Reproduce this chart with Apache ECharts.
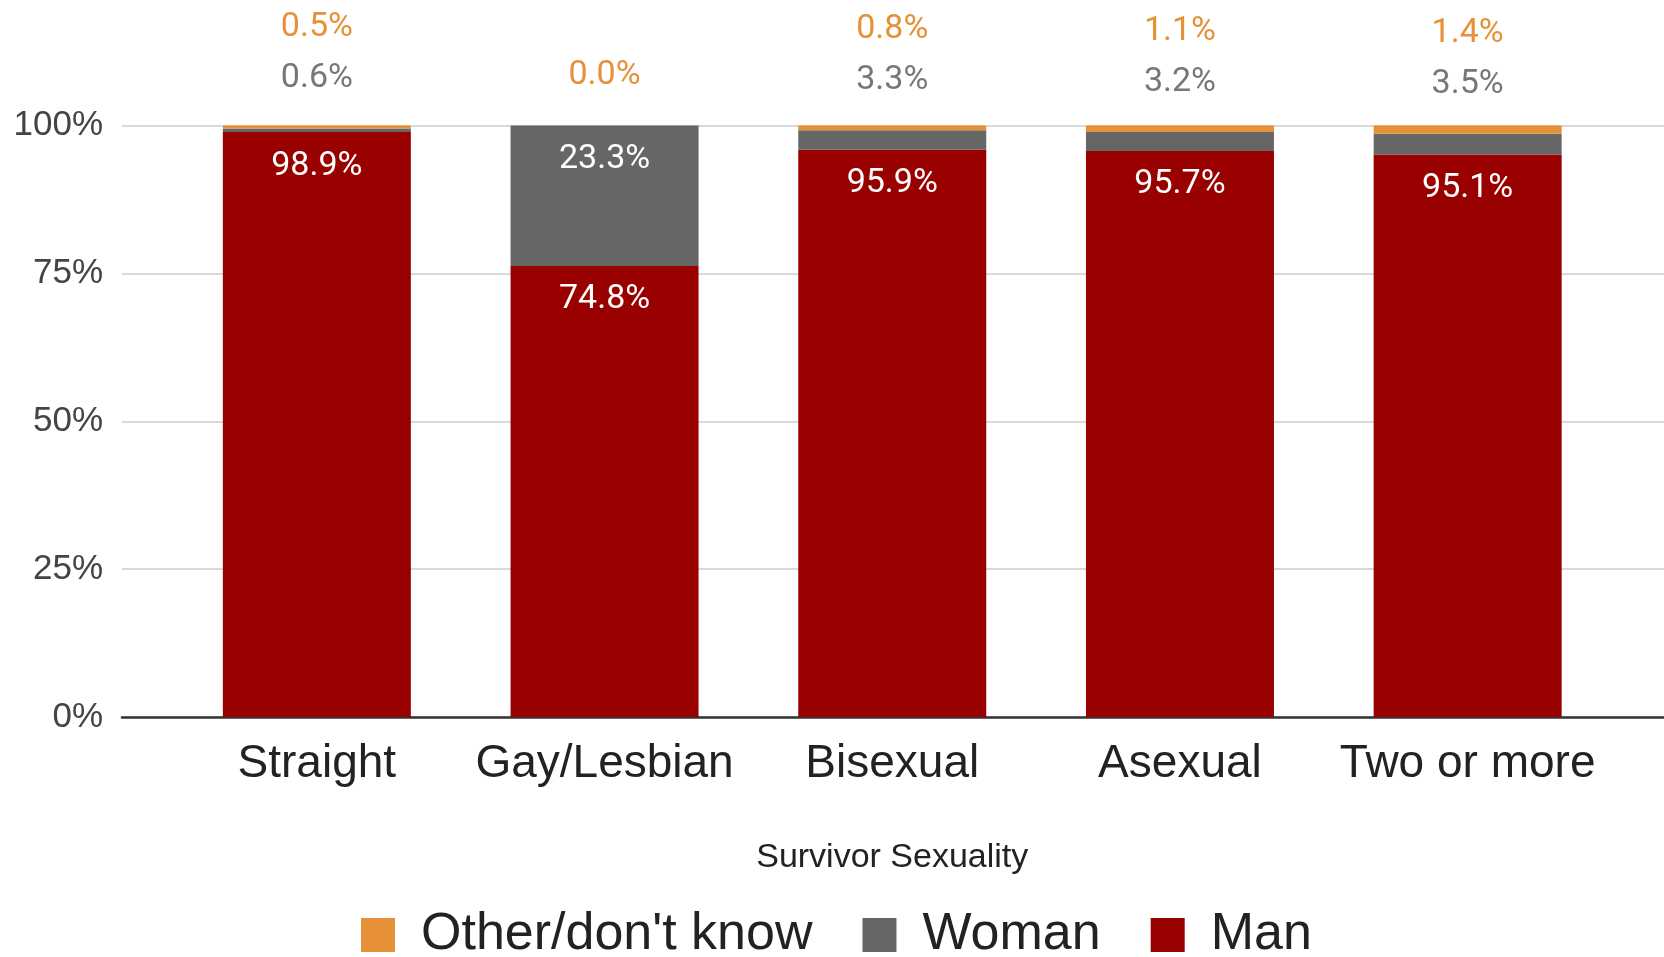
<!DOCTYPE html>
<html><head><meta charset="utf-8">
<script src="https://cdn.jsdelivr.net/npm/echarts@6/dist/echarts.min.js"></script>
<style>html,body{margin:0;padding:0;background:#fff}#c{width:1664px;height:957px}</style>
</head><body><div id="c"></div>
<script>
const categories = ['Straight', 'Gay/Lesbian', 'Bisexual', 'Asexual', 'Two or more'];
const man = [98.9, 74.8, 95.9, 95.7, 95.1];
const woman = [0.6, 23.3, 3.3, 3.2, 3.5];
const other = [0.5, 0.0, 0.8, 1.1, 1.4];
const yTickStep = 25;

const C_MAN = '#990000', C_WOMAN = '#666666', C_OTHER = '#e69138';
const LBL_FONT = 'Roboto, "Liberation Sans", Arial, sans-serif';
const AX_FONT = '"Liberation Sans", Arial, sans-serif';

const totals = categories.map((_, i) => man[i] + woman[i] + other[i]);
const share = (arr) => arr.map((v, i) => v / totals[i] * 100);
const fmt = v => v.toFixed(1) + '%';
const INSIDE_MIN = 10;

const manData = share(man).map((v, i) => ({
  value: v,
  label: { show: true, position: 'insideTop', distance: 17, formatter: fmt(man[i]),
           color: '#fff', fontSize: 34, fontFamily: LBL_FONT }
}));
const womanShare = share(woman);
const womanData = womanShare.map((v, i) => {
  if (v >= INSIDE_MIN) {
    return { value: v, label: { show: true, position: 'insideTop', distance: 17, formatter: fmt(woman[i]),
             color: '#fff', fontSize: 34, fontFamily: LBL_FONT } };
  }
  return { value: v, label: { show: true, position: 'top', distance: 24,
           formatter: '{o|' + fmt(other[i]) + '}\n{w|' + fmt(woman[i]) + '}',
           rich: { o: { color: C_OTHER, fontSize: 34, lineHeight: 51, fontFamily: LBL_FONT },
                   w: { color: '#777777', fontSize: 34, lineHeight: 51, fontFamily: LBL_FONT } } } };
});
const otherData = share(other).map((v, i) => ({
  value: v,
  label: womanShare[i] >= INSIDE_MIN
    ? { show: true, position: 'top', distance: 25, formatter: fmt(other[i]), color: C_OTHER,
        fontSize: 34, lineHeight: 51, fontFamily: LBL_FONT }
    : { show: false }
}));

const chart = echarts.init(document.getElementById('c'), null, { renderer: 'canvas' });
chart.setOption({
  animation: false,
  backgroundColor: '#fff',
  grid: [
    { left: 173, right: 52.5, top: 125.5, bottom: 240 },
    { left: 122, right: 0, top: 125.5, bottom: 240 }
  ],
  legend: {
    data: ["Other/don't know", 'Woman', 'Man'],
    left: 356, top: 904, itemWidth: 34, itemHeight: 34, itemGap: 50, icon: 'rect',
    itemStyle: { borderRadius: 3 },
    textStyle: { fontSize: 52, color: '#222', fontFamily: AX_FONT, padding: [0, 0, 0, 21] }
  },
  xAxis: [
    { type: 'category', gridIndex: 0, data: categories,
      axisLine: { show: false }, axisTick: { show: false },
      axisLabel: { interval: 0, fontSize: 46, color: '#222', fontFamily: AX_FONT, margin: 24 },
      name: 'Survivor Sexuality', nameLocation: 'middle', nameGap: 124,
      nameTextStyle: { fontSize: 34, color: '#222', fontFamily: AX_FONT } },
    { type: 'value', gridIndex: 1, min: 0, max: 1,
      axisLine: { show: true, onZero: false, lineStyle: { color: '#333', width: 2.5 } },
      axisTick: { show: false }, axisLabel: { show: false }, splitLine: { show: false } }
  ],
  yAxis: [
    { type: 'value', gridIndex: 0, min: 0, max: 100, interval: yTickStep, show: false },
    { type: 'value', gridIndex: 1, min: 0, max: 100, interval: yTickStep,
      axisLine: { show: false }, axisTick: { show: false },
      axisLabel: { formatter: '{value}%', fontSize: 35, color: '#444', fontFamily: AX_FONT, margin: 19 },
      splitLine: { lineStyle: { color: '#d9d9d9', width: 2 } } }
  ],
  series: [
    { name: 'Man', type: 'bar', stack: 's', xAxisIndex: 0, yAxisIndex: 0, barWidth: 188,
      itemStyle: { color: C_MAN }, data: manData },
    { name: 'Woman', type: 'bar', stack: 's', xAxisIndex: 0, yAxisIndex: 0, barWidth: 188,
      itemStyle: { color: C_WOMAN }, data: womanData },
    { name: "Other/don't know", type: 'bar', stack: 's', xAxisIndex: 0, yAxisIndex: 0, barWidth: 188,
      itemStyle: { color: C_OTHER }, data: otherData }
  ]
});
</script></body></html>
